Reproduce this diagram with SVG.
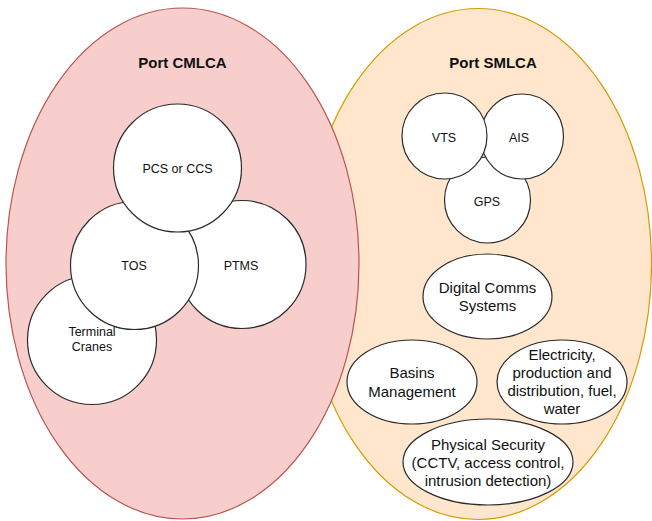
<svg xmlns="http://www.w3.org/2000/svg" width="652" height="521" viewBox="0 0 652 521">
  <style>
    .node { fill: #ffffff; stroke: #2b2b2b; stroke-width: 1.2; }
    .lbl { font-family: "Liberation Sans", Arial, Helvetica, sans-serif; fill: #111111; text-anchor: middle; }
    .s { font-size: 12.5px; }
    .m { font-size: 15px; }
    .title { font-size: 15px; font-weight: bold; }
  </style>
  <rect width="652" height="521" fill="#ffffff"/>

  <!-- Port SMLCA container (partly behind the CMLCA ellipse) -->
  <g id="smlca">
    <ellipse cx="478" cy="264" rx="173.5" ry="255.5" fill="#ffe6cc" stroke="#d79b00" stroke-width="1.2"/>
    <text class="lbl title" x="493" y="68">Port SMLCA</text>
  </g>

  <!-- Port CMLCA container -->
  <g id="cmlca">
    <ellipse cx="182.5" cy="263.5" rx="176.5" ry="255.5" fill="#f8cecc" stroke="#b85450" stroke-width="1.2"/>
    <text class="lbl title" x="182.5" y="68.4">Port CMLCA</text>
  </g>

  <!-- CMLCA systems -->
  <g id="terminal-cranes">
    <circle class="node" cx="92" cy="340" r="64.5"/>
    <text class="lbl s" x="92" y="335.5">Terminal</text>
    <text class="lbl s" x="92" y="351">Cranes</text>
  </g>
  <g id="ptms">
    <circle class="node" cx="242" cy="264.5" r="64"/>
    <text class="lbl s" x="241" y="270">PTMS</text>
  </g>
  <g id="tos">
    <circle class="node" cx="134.5" cy="265.5" r="64"/>
    <text class="lbl s" x="134" y="270">TOS</text>
  </g>
  <g id="pcs-ccs">
    <circle class="node" cx="177.5" cy="168" r="64"/>
    <text class="lbl s" x="177.5" y="173">PCS or CCS</text>
  </g>

  <!-- SMLCA systems -->
  <g id="gps">
    <circle class="node" cx="487.5" cy="200" r="43"/>
    <text class="lbl s" x="487" y="205.5">GPS</text>
  </g>
  <g id="ais">
    <ellipse class="node" cx="522" cy="136.5" rx="41.5" ry="42.5"/>
    <text class="lbl s" x="519" y="141.5">AIS</text>
  </g>
  <g id="vts">
    <ellipse class="node" cx="444.5" cy="136" rx="42.5" ry="43"/>
    <text class="lbl s" x="444" y="141.5">VTS</text>
  </g>
  <g id="digital-comms">
    <ellipse class="node" cx="487.5" cy="296.5" rx="64.5" ry="42.5"/>
    <text class="lbl m" x="487.5" y="293.4">Digital Comms</text>
    <text class="lbl m" x="487.5" y="311.4">Systems</text>
  </g>
  <g id="basins">
    <ellipse class="node" cx="412" cy="382" rx="65" ry="42"/>
    <text class="lbl m" x="412" y="378.4">Basins</text>
    <text class="lbl m" x="412" y="396.8">Management</text>
  </g>
  <g id="utilities">
    <ellipse class="node" cx="562" cy="382" rx="65" ry="42"/>
    <text class="lbl m" x="562" y="360.4">Electricity,</text>
    <text class="lbl m" x="562" y="378.4">production and</text>
    <text class="lbl m" x="562" y="396.4">distribution, fuel,</text>
    <text class="lbl m" x="562" y="414.4">water</text>
  </g>
  <g id="physical-security">
    <ellipse class="node" cx="488" cy="462" rx="85" ry="43"/>
    <text class="lbl m" x="488" y="450.4">Physical Security</text>
    <text class="lbl m" x="488" y="468.4">(CCTV, access control,</text>
    <text class="lbl m" x="488" y="486.4">intrusion detection)</text>
  </g>

  <g id="connectors"/>
</svg>
